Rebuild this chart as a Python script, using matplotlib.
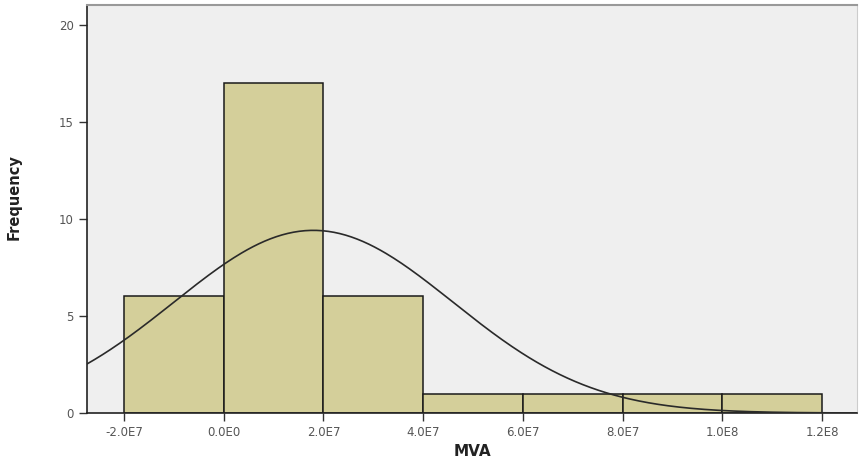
import numpy as np
import matplotlib
matplotlib.use("Agg")
import matplotlib.pyplot as plt

# MVA histogram (bin width 2.0E7) with fitted normal curve
bin_edges = [-2.0e7, 0.0, 2.0e7, 4.0e7, 6.0e7, 8.0e7, 1.0e8, 1.2e8]
counts = [6, 17, 6, 1, 1, 1, 1]
mva_mean = 1.8e7
mva_std = 2.8e7
n_obs = sum(counts)

xticks = [-2.0e7, 0.0, 2.0e7, 4.0e7, 6.0e7, 8.0e7, 1.0e8, 1.2e8]
xtick_labels = ["-2.0E7", "0.0E0", "2.0E7", "4.0E7", "6.0E7", "8.0E7", "1.0E8", "1.2E8"]
yticks = [0, 5, 10, 15, 20]

fig = plt.figure(figsize=(8.59, 4.62), dpi=100)
ax = fig.add_axes([0.1013, 0.106, 0.8964, 0.883])
ax.set_facecolor("#efefef")

widths = np.diff(bin_edges)
ax.bar(bin_edges[:-1], counts, width=widths, align="edge",
       color="#d4cf9a", edgecolor="#1a1a1a", linewidth=1.1, zorder=2)

xlim = (-2.74e7, 1.27e8)
xs = np.linspace(xlim[0], xlim[1], 400)
bw = widths[0]
ys = n_obs * bw / (mva_std * np.sqrt(2 * np.pi)) * np.exp(-0.5 * ((xs - mva_mean) / mva_std) ** 2)
ax.plot(xs, ys, color="#2a2a2a", linewidth=1.2, zorder=3)

ax.set_xlim(*xlim)
ax.set_ylim(0, 21.0)
ax.set_xticks(xticks)
ax.set_xticklabels(xtick_labels)
ax.set_yticks(yticks)
ax.tick_params(axis="both", labelsize=8.5, labelcolor="#555555", color="#333333",
               length=6, width=1.0)
ax.tick_params(axis="x", pad=3)

for side in ["left", "bottom"]:
    ax.spines[side].set_color("#222222")
    ax.spines[side].set_linewidth(1.2)
ax.spines["top"].set_color("#999999")
ax.spines["top"].set_linewidth(1.5)
ax.spines["right"].set_color("#cccccc")

ax.set_xlabel("MVA", fontsize=11, fontweight="bold", color="#222222", labelpad=4)
ax.set_ylabel("Frequency", fontsize=10.5, fontweight="bold", color="#222222",
              labelpad=28)
ax.yaxis.set_label_coords(-0.085, 0.53)

plt.savefig("out.png", dpi=100)
